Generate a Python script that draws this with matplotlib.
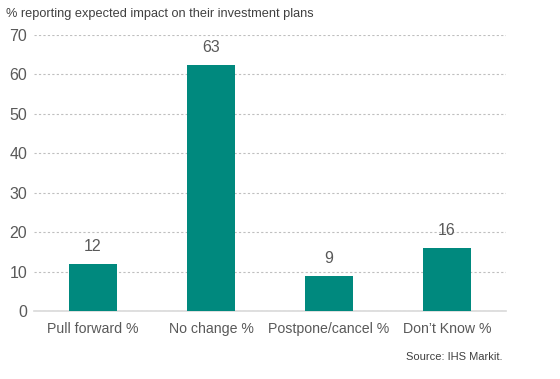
import matplotlib
matplotlib.use("Agg")
import matplotlib.pyplot as plt

categories = ["Pull forward %", "No change %", "Postpone/cancel %", "Don\u2019t Know %"]
values = [11.9, 62.5, 8.8, 16.1]
labels = ["12", "63", "9", "16"]

plt.rcParams['font.family'] = ['Liberation Sans', 'DejaVu Sans']
grey = "#595959"

fig = plt.figure(figsize=(5.6, 3.79), dpi=100)
ax = fig.add_axes([0.0607, 0.1794, 0.8429, 0.7283])

x = range(len(categories))
ax.bar(x, values, width=0.4, color="#00897E", zorder=3)
for xi, v, lab in zip(x, values, labels):
    ax.text(xi, v + 2.5, lab, ha="center", va="bottom", fontsize=11.5, color=grey)

ax.set_xlim(-0.5, 3.5)
ax.set_ylim(0, 70)
ax.set_yticks(range(0, 71, 10))
ax.set_xticks(list(x))
ax.set_xticklabels(categories, fontsize=10.2)
ax.tick_params(axis="both", length=0, colors=grey)
ax.tick_params(axis="y", labelsize=11.5, pad=5)
ax.tick_params(axis="x", pad=8)
ax.grid(axis="y", color="#BFBFBF", linestyle=(0, (2, 2)), linewidth=0.8, zorder=0)
for s in ["top", "right", "left"]:
    ax.spines[s].set_visible(False)
ax.spines["bottom"].set_color("#D9D9D9")
ax.spines["bottom"].set_linewidth(1.2)

fig.text(0.011, 0.962, "% reporting expected impact on their investment plans",
         fontsize=9.2, color="#404040", va="center", ha="left")
fig.text(0.897, 0.058, "Source: IHS Markit.", fontsize=8, color="#404040",
         va="center", ha="right")

fig.savefig("out.png", dpi=100)
